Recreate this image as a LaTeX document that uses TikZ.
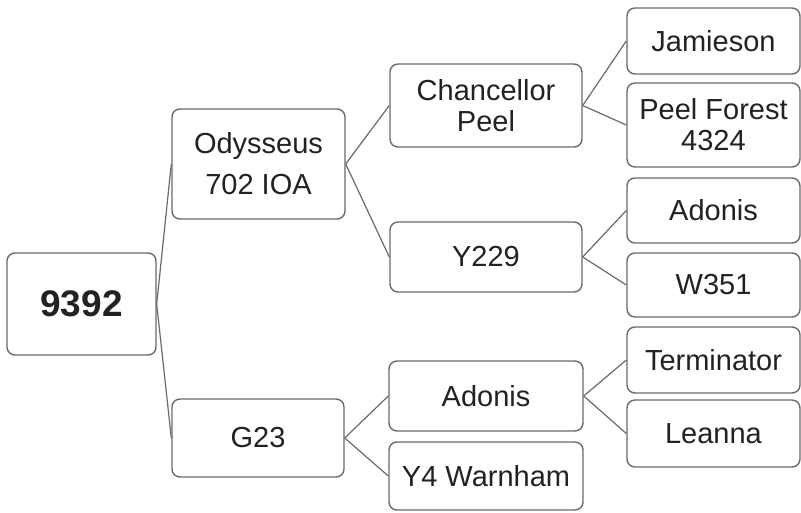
\documentclass[tikz,border=0pt]{standalone}
\usepackage{fontspec}
\setmainfont{Liberation Sans}
\definecolor{edge}{HTML}{6A6A6A}
\definecolor{ink}{HTML}{222222}
\begin{document}
\begin{tikzpicture}[x=1pt,y=1pt,
  box/.style={draw=edge,line width=1.4pt,rounded corners=8pt,fill=white,inner sep=0pt,
    text=ink,font=\fontsize{29}{31}\selectfont,align=center},
  link/.style={draw=edge,line width=1.2pt}]
\useasboundingbox (0,0) rectangle (801,512);
\clip (0,0) rectangle (801,512);
% nodes
\node[box,minimum width=149pt,minimum height=102pt,font=\fontsize{37}{40}\selectfont\bfseries] (root) at (81.5,208) {9392};
\node[box,minimum width=173pt,minimum height=110pt,font=\fontsize{29}{41}\selectfont] (ody) at (258.5,348) {Odysseus\\702 IOA};
\node[box,minimum width=172pt,minimum height=78pt] (g23) at (258,74) {G23};
\node[box,minimum width=192pt,minimum height=83pt] (chan) at (486,406.5) {Chancellor\\Peel};
\node[box,minimum width=192pt,minimum height=70pt] (y229) at (486,255) {Y229};
\node[box,minimum width=194pt,minimum height=70pt] (adm) at (486,116) {Adonis};
\node[box,minimum width=194pt,minimum height=68pt] (y4) at (486,36) {Y4 Warnham};
\node[box,minimum width=173pt,minimum height=66pt] (jam) at (713.5,471) {Jamieson};
\node[box,minimum width=173pt,minimum height=84pt] (pf) at (713.5,387) {Peel Forest\\4324};
\node[box,minimum width=173pt,minimum height=65pt] (adr) at (713.5,301.5) {Adonis};
\node[box,minimum width=173pt,minimum height=64pt] (w351) at (713.5,227) {W351};
\node[box,minimum width=173pt,minimum height=66pt] (term) at (713.5,152) {Terminator};
\node[box,minimum width=173pt,minimum height=67pt] (lea) at (713.5,78.5) {Leanna};
% connectors
\draw[link] (root.east) -- (ody.west);
\draw[link] (root.east) -- (g23.west);
\draw[link] (ody.east) -- (chan.west);
\draw[link] (ody.east) -- (y229.west);
\draw[link] (g23.east) -- (adm.west);
\draw[link] (g23.east) -- (y4.west);
\draw[link] (chan.east) -- (jam.west);
\draw[link] (chan.east) -- (pf.west);
\draw[link] (y229.east) -- (adr.west);
\draw[link] (y229.east) -- (w351.west);
\draw[link] (adm.east) -- (term.west);
\draw[link] (adm.east) -- (lea.west);
\end{tikzpicture}
\end{document}
